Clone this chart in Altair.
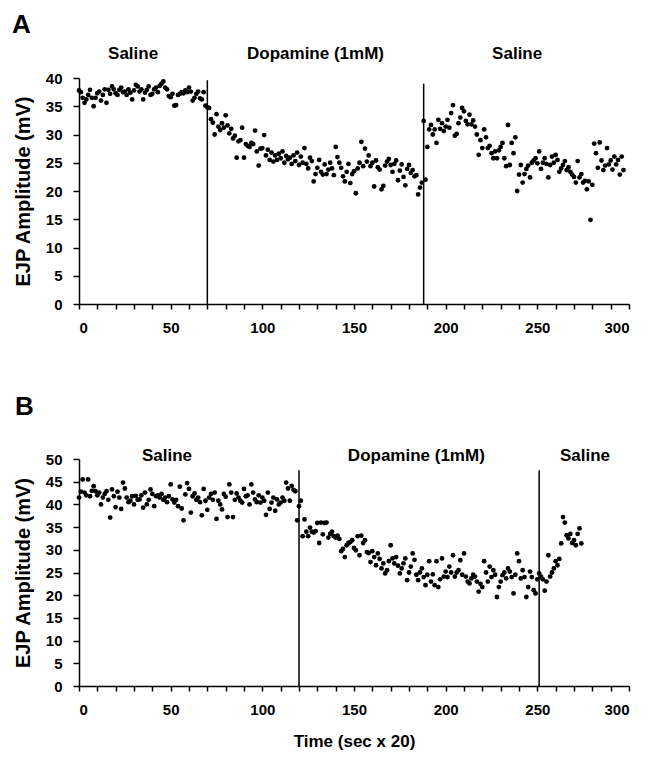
import altair as alt
import pandas as pd

FONT = "Liberation Sans"

# ---------------- Panel A data (one EJP per time step, x = 0 .. 297) ----------------
a_amp = [
    37.8, 37.5, 36.5, 35.6, 36.2, 37.0, 37.9, 36.5, 35.0, 36.5,
    37.3, 37.6, 36.0, 37.0, 38.0, 35.6, 37.9, 37.2, 38.5, 38.0,
    37.3, 37.0, 37.9, 38.3, 37.5, 37.6, 37.0, 38.0, 37.4, 36.2,
    37.8, 38.8, 38.5, 37.6, 38.0, 36.2, 37.4, 37.9, 38.5, 37.0,
    37.2, 38.0, 38.3, 37.5, 38.6, 39.0, 39.4, 38.3, 38.0, 36.8,
    36.6, 37.2, 35.1, 35.2, 37.0, 37.2, 37.5, 37.3, 37.8, 37.5,
    38.3, 37.6, 36.0, 36.5, 37.2, 37.6, 36.4, 36.2, 37.5, 35.1,
    34.8, 34.7, 32.7, 32.1, 30.0, 33.6, 31.4, 30.8, 32.0, 31.2,
    33.4, 31.6, 30.2, 31.0, 29.3, 29.8, 25.9, 28.8, 29.0, 31.2,
    25.9, 28.3, 28.0, 27.8, 28.5, 28.3, 30.7, 27.0, 24.5, 27.5,
    27.6, 29.9, 26.3, 27.3, 25.5, 26.8, 25.2, 26.3, 25.5, 26.6,
    25.8, 27.0, 25.0, 26.2, 25.6, 25.9, 24.8, 26.3, 25.3, 26.8,
    24.6, 26.1, 25.0, 27.6, 24.8, 24.0, 25.9, 25.3, 21.7, 23.0,
    24.1, 25.5, 23.4, 22.9, 24.7, 23.0, 23.8, 25.0, 24.0, 22.8,
    27.8, 26.0, 25.0, 24.1, 22.6, 21.7, 23.4, 24.8, 21.4, 23.0,
    23.5, 19.6, 24.0, 25.0, 28.7, 24.4, 27.5, 25.2, 26.3, 24.4,
    25.0, 20.8, 25.4, 24.2, 23.8, 20.3, 20.9, 24.5, 25.2, 25.7,
    24.6, 23.4, 24.8, 25.4, 21.9, 23.6, 24.7, 22.5, 21.0, 23.9,
    24.6, 23.2, 23.7, 22.6, 22.8, 19.4, 20.6, 21.5,
    32.4, 22.0, 27.8, 30.9, 31.7, 30.0, 30.9, 28.5, 32.6, 31.0,
    32.0, 30.6, 31.4, 32.6, 31.2, 33.8, 35.2, 29.8, 30.1, 32.0,
    33.0, 34.7, 34.1, 32.4, 31.8, 33.5, 31.8, 32.5, 31.4, 30.0,
    26.4, 29.0, 27.6, 30.9, 29.5, 27.6, 28.0, 26.7, 25.8, 27.0,
    25.8, 27.2, 27.8, 28.5, 25.8, 24.4, 31.7, 24.6, 28.5, 26.7,
    29.5, 20.0, 22.9, 24.6, 21.5, 23.0, 23.9, 24.5, 22.4, 25.0,
    25.4, 25.8, 24.9, 27.0, 23.9, 25.0, 25.8, 24.8, 22.4, 24.6,
    26.1, 25.0, 26.4, 25.5, 23.4, 24.0, 24.6, 25.3, 23.7, 24.2,
    23.4, 22.9, 22.5, 21.5, 25.3, 22.4, 23.0, 21.5, 21.8, 20.3,
    21.7, 14.9, 21.1, 28.4, 26.7, 24.1, 28.6, 25.4, 23.7, 24.5,
    27.6, 24.7, 25.4, 23.8, 26.1, 24.7, 25.5, 22.9, 26.1, 23.7,
]

# ---------------- Panel B data (x = 0 .. 274) ----------------
b_amp = [
    41.5, 42.8, 45.5, 42.6, 42.0, 45.5, 41.8, 43.0, 44.0, 42.9,
    42.0, 42.6, 40.0, 41.5, 42.3, 42.9, 41.0, 37.1, 43.3, 41.8,
    39.4, 42.8, 41.5, 39.0, 44.8, 43.5, 41.5, 40.5, 40.8, 41.8,
    40.0, 41.9, 41.0, 41.1, 42.0, 39.3, 42.6, 40.0, 41.0, 43.3,
    42.3, 39.6, 41.8, 42.0, 41.5, 42.3, 41.0, 41.5, 40.5, 41.8,
    44.4, 41.1, 40.4, 41.0, 39.6, 43.9, 39.1, 36.5, 42.2, 44.7,
    43.4, 38.2, 41.8, 42.4, 41.0, 41.5, 40.5, 37.6, 43.4, 40.8,
    38.8, 41.5, 42.3, 41.0, 42.6, 36.8, 40.8, 40.0, 38.9, 42.3,
    41.7, 37.2, 44.4, 42.6, 37.2, 41.0, 42.4, 41.5, 40.8, 40.4,
    43.4, 41.8, 42.0, 40.0, 44.4, 42.6, 41.1, 40.5, 42.0, 40.4,
    41.5, 40.8, 37.7, 42.6, 39.0, 40.4, 41.5, 38.6, 41.1, 40.0,
    40.4, 41.5, 40.8, 44.8, 43.5, 40.8, 44.1, 43.2, 42.9, 36.5,
    39.6, 40.8, 33.0, 36.7, 34.0, 33.0, 34.9, 34.0, 33.8, 34.1,
    35.9, 31.5, 36.0, 33.4, 35.9, 36.0, 32.7, 33.5, 34.0, 33.0,
    32.7, 33.1, 32.4, 29.7, 30.2, 28.4, 31.0, 31.5, 31.7, 32.1,
    30.4, 29.9, 33.0, 28.8, 33.1, 31.5, 32.1, 29.5, 29.3, 27.3,
    29.7, 28.4, 26.6, 29.2, 28.0, 25.9, 27.0, 24.8, 25.5, 27.5,
    31.0, 28.1, 27.0, 28.4, 26.5, 24.8, 25.9, 27.0, 28.1, 23.3,
    25.0, 26.3, 29.2, 27.8, 24.5, 23.3, 25.0, 25.9, 24.0, 22.2,
    24.5, 27.5, 23.0, 24.6, 22.2, 27.5, 21.8, 23.5, 28.1, 24.1,
    25.2, 24.0, 26.3, 25.0, 28.8, 24.1, 25.0, 25.5, 27.7, 24.5,
    29.2, 24.1, 23.0, 22.6, 23.7, 24.5, 24.1, 23.0, 20.8, 22.5,
    21.8, 27.5, 25.0, 23.0, 26.3, 24.0, 25.5, 24.5, 19.6, 21.8,
    23.0, 24.4, 25.0, 23.7, 25.9, 25.2, 24.0, 20.4, 24.5, 29.2,
    27.5, 23.7, 25.5, 24.0, 19.6, 21.8, 25.2, 24.0, 21.1, 20.4,
    23.5, 24.8, 24.1, 23.5, 21.0, 23.0, 28.8, 24.1, 25.0, 25.9,
    27.5, 26.6, 28.0, 31.4, 37.2, 36.0, 33.2, 32.5, 33.5, 31.5,
    32.1, 31.0, 33.5, 34.7, 31.4,
]

# treatment boundaries and labels
a_switch = [70, 188]
a_switch_top = [39.6, 39.0]
b_switch = [120, 251]
b_switch_top = [47.5, 47.5]

phase_labels = ["Saline", "Dopamine (1mM)", "Saline"]
a_label_t = [29.5, 129, 239]
b_label_t = [48, 184, 276]

x_ticks = list(range(0, 301, 10))
a_y_ticks = list(range(0, 41, 5))
b_y_ticks = list(range(0, 51, 5))

Y_TITLE = "EJP Amplitude (mV)"
X_TITLE = "Time (sec x 20)"


def panel(amp, ymax, yticks, switch, switch_top, label_t, label_dy, letter,
          letter_dx, letter_dy, xtitle, w, h):
    pts_df = pd.DataFrame({"t": list(range(len(amp))), "v": amp})
    rule_df = pd.DataFrame({"t": switch, "v": [0] * len(switch), "v2": switch_top})
    lab_df = pd.DataFrame({"t": label_t, "lab": phase_labels})
    let_df = pd.DataFrame({"lab": [letter]})

    xscale = alt.Scale(domain=[0, 300], nice=False, zero=True)
    yscale = alt.Scale(domain=[0, ymax], nice=False)

    xaxis = alt.Axis(
        values=x_ticks,
        labelExpr="datum.value % 50 == 0 ? datum.label : ''",
        tickSize=5,
        labelPadding=11,
        titlePadding=16,
        titleFontSize=17,
    )
    yaxis = alt.Axis(values=yticks, tickSize=6, labelPadding=11,
                     titlePadding=12, titleFontSize=20)

    def xe():
        if xtitle:
            return alt.X("t:Q", scale=xscale, axis=xaxis, title=xtitle)
        return alt.X("t:Q", scale=xscale, axis=xaxis, title=None)

    def ye():
        return alt.Y("v:Q", scale=yscale, axis=yaxis, title=Y_TITLE)

    pts = alt.Chart(pts_df).mark_circle(size=23, color="black", opacity=1).encode(
        x=xe(), y=ye()
    )
    rules = alt.Chart(rule_df).mark_rule(color="black", strokeWidth=1.5).encode(
        x=xe(), y=ye(), y2="v2:Q"
    )
    labs = alt.Chart(lab_df).mark_text(
        font=FONT, fontWeight="bold", fontSize=17, baseline="middle", color="black"
    ).encode(x=xe(), y=alt.value(label_dy), text="lab:N")
    let = alt.Chart(let_df).mark_text(
        font=FONT, fontWeight="bold", fontSize=26, align="left", baseline="middle",
        color="black"
    ).encode(x=alt.value(letter_dx), y=alt.value(letter_dy), text="lab:N")
    return alt.layer(pts, rules, labs, let).properties(width=w, height=h)


pa = panel(a_amp, 40, a_y_ticks, a_switch, a_switch_top, a_label_t, -24, "A",
           -67, -53, None, 550, 226)
pb = panel(b_amp, 50, b_y_ticks, b_switch, b_switch_top, b_label_t, -3, "B",
           -64, -52, X_TITLE, 550, 227)

chart = alt.vconcat(pa, pb, spacing=155, bounds="flush").properties(
    padding={"left": 4, "top": 4, "right": 5, "bottom": 5}
).configure_view(stroke=None).configure_axis(
    grid=False,
    domainColor="black",
    domainWidth=1.5,
    tickColor="black",
    tickWidth=1.5,
    labelFont=FONT,
    labelFontSize=15,
    labelFontWeight="bold",
    labelColor="black",
    titleFont=FONT,
    titleFontWeight="bold",
    titleColor="black",
)

chart.save("out.html", embed_options={"renderer": "svg", "actions": False})
